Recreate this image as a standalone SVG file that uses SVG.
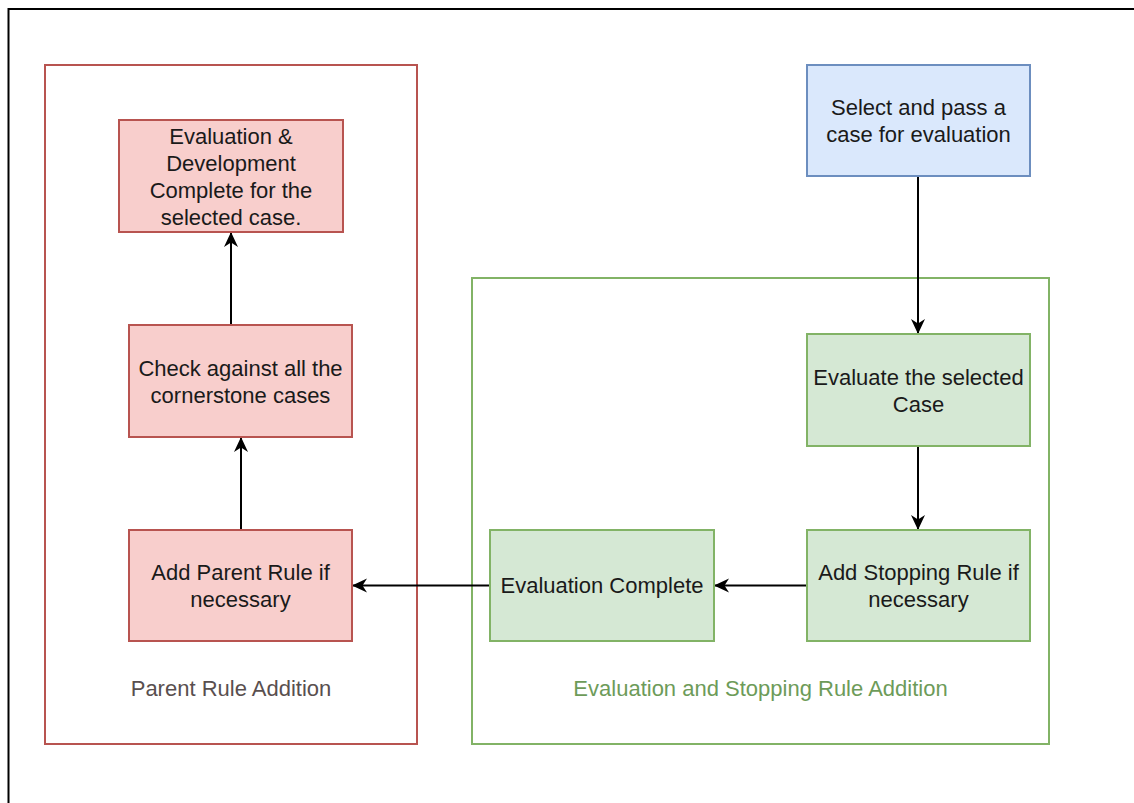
<svg xmlns="http://www.w3.org/2000/svg" width="1134" height="803" viewBox="0 0 1134 803">
  <style>
    .lbl { font-family: "Liberation Sans", Arial, Helvetica, sans-serif; font-size: 22px; fill: #1a1a1a; text-anchor: middle; }
    .red { fill: #f8cecc; stroke: #b85450; stroke-width: 2; }
    .green { fill: #d5e8d4; stroke: #82b366; stroke-width: 2; }
    .blue { fill: #dae8fc; stroke: #6c8ebf; stroke-width: 2; }
    .frame-red { fill: none; stroke: #b85450; stroke-width: 2; }
    .frame-green { fill: none; stroke: #82b366; stroke-width: 2; }
    .edge { fill: none; stroke: #000; stroke-width: 2; marker-end: url(#arrow); }
  </style>
  <defs>
    <marker id="arrow" markerUnits="userSpaceOnUse" markerWidth="17" markerHeight="16" refX="16" refY="8" orient="auto">
      <path d="M1,1 L16,8 L1,15 L5.5,8 Z" fill="#000"/>
    </marker>
  </defs>

  <rect width="1134" height="803" fill="#fff"/>
  <!-- outer page border -->
  <rect x="8.5" y="9" width="1200" height="900" fill="none" stroke="#000" stroke-width="2"/>

  <!-- containers -->
  <g id="parent-rule-addition">
    <rect class="frame-red" x="45" y="65" width="372" height="679"/>
    <text class="lbl" x="231" y="696" style="fill:#594f4f">Parent Rule Addition</text>
  </g>
  <g id="evaluation-stopping-rule">
    <rect class="frame-green" x="472" y="278" width="577" height="466"/>
    <text class="lbl" x="760.5" y="696" style="fill:#6d9b59">Evaluation and Stopping Rule Addition</text>
  </g>

  <!-- connectors -->
  <g id="connectors">
    <path class="edge" d="M918,176 L918,334"/>
    <path class="edge" d="M918,446 L918,530"/>
    <path class="edge" d="M807,585.5 L714,585.5"/>
    <path class="edge" d="M490,585.5 L352,585.5"/>
    <path class="edge" d="M241,530 L241,437"/>
    <path class="edge" d="M231,325 L231,232"/>
  </g>

  <!-- nodes -->
  <g id="select-case">
    <rect class="blue" x="807" y="65" width="223" height="111"/>
    <text class="lbl" x="918.5" y="115">Select and pass a</text>
    <text class="lbl" x="918.5" y="142">case for evaluation</text>
  </g>
  <g id="evaluate-case">
    <rect class="green" x="807" y="334" width="223" height="112"/>
    <text class="lbl" x="918.5" y="384.5">Evaluate the selected</text>
    <text class="lbl" x="918.5" y="411.5">Case</text>
  </g>
  <g id="add-stopping-rule">
    <rect class="green" x="807" y="530" width="223" height="111"/>
    <text class="lbl" x="918.5" y="580">Add Stopping Rule if</text>
    <text class="lbl" x="918.5" y="607">necessary</text>
  </g>
  <g id="evaluation-complete">
    <rect class="green" x="490" y="530" width="224" height="111"/>
    <text class="lbl" x="602" y="593">Evaluation Complete</text>
  </g>
  <g id="add-parent-rule">
    <rect class="red" x="129" y="530" width="223" height="111"/>
    <text class="lbl" x="240.5" y="580">Add Parent Rule if</text>
    <text class="lbl" x="240.5" y="607">necessary</text>
  </g>
  <g id="check-cornerstone">
    <rect class="red" x="129" y="325" width="223" height="112"/>
    <text class="lbl" x="240.5" y="375.5">Check against all the</text>
    <text class="lbl" x="240.5" y="402.5">cornerstone cases</text>
  </g>
  <g id="development-complete">
    <rect class="red" x="119" y="120" width="224" height="112"/>
    <text class="lbl" x="231" y="143.5">Evaluation &amp;</text>
    <text class="lbl" x="231" y="170.5">Development</text>
    <text class="lbl" x="231" y="197.5">Complete for the</text>
    <text class="lbl" x="231" y="224.5">selected case.</text>
  </g>
</svg>
